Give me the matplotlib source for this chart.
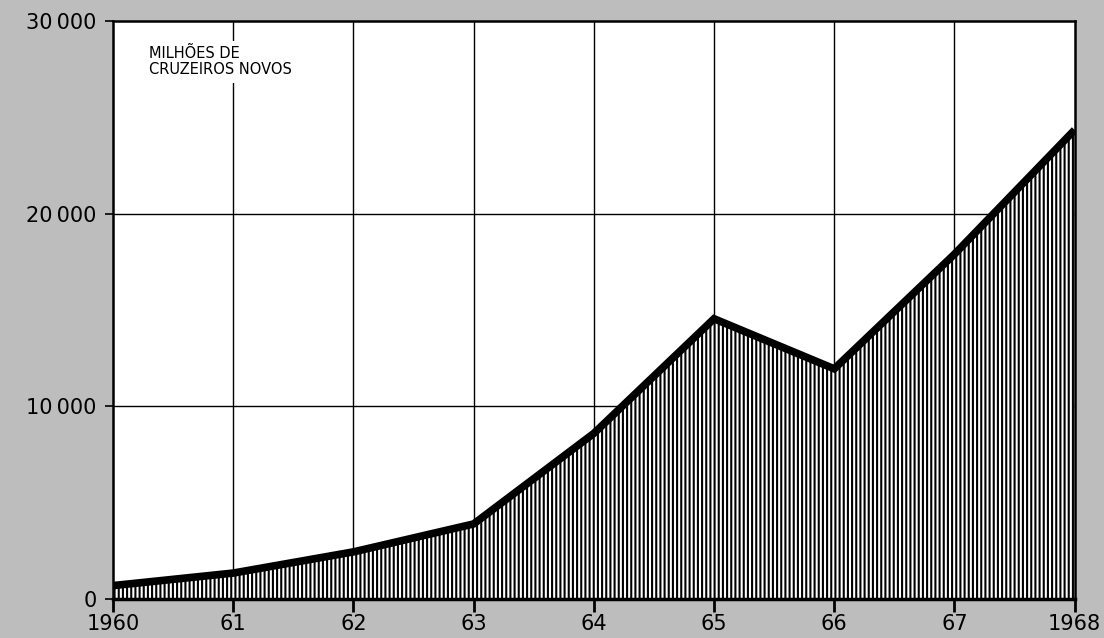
import matplotlib
matplotlib.use('Agg')
import matplotlib.pyplot as plt

# values (millions of new cruzeiros)
years = [1960, 1961, 1962, 1963, 1964, 1965, 1966, 1967, 1968]
values = [700, 1350, 2450, 3900, 8600, 14550, 11950, 17900, 24350]
year_labels = ['1960', '61', '62', '63', '64', '65', '66', '67', '1968']
y_ticks = [0, 10000, 20000, 30000]
y_labels = ['0', '10\u2009000', '20\u2009000', '30\u2009000']
unit_label = 'MILHÕES DE\nCRUZEIROS NOVOS'

plt.rcParams['hatch.linewidth'] = 1.5
plt.rcParams['hatch.color'] = 'black'

fig = plt.figure(figsize=(11.04, 6.38), dpi=100, facecolor='#bdbdbd')
ax = fig.add_axes([0.1024, 0.061, 0.871, 0.906])
ax.set_facecolor('white')

# grid behind the shaded area
for yr in years[1:-1]:
    ax.axvline(yr, color='black', lw=1.0, zorder=1)
for v in y_ticks[1:-1]:
    ax.axhline(v, color='black', lw=1.0, zorder=1)

ax.fill_between(years, values, 0, facecolor='white', edgecolor='black',
                hatch='||||', lw=0, zorder=2)
ax.plot(years, values, color='black', lw=5.5, solid_joinstyle='miter',
        solid_capstyle='butt', zorder=3)

ax.set_xlim(1960, 1968)
ax.set_ylim(0, 30000)
ax.set_xticks(years)
ax.set_xticklabels(year_labels, fontsize=15)
ax.set_yticks(y_ticks)
ax.set_yticklabels(y_labels, fontsize=15)
ax.tick_params(axis='x', direction='out', length=9, width=2, pad=2)
ax.tick_params(axis='y', direction='out', length=6, width=1.2, pad=6)

for side in ['left', 'top', 'right']:
    ax.spines[side].set_linewidth(1.8)
ax.spines['bottom'].set_linewidth(2.5)
for s in ax.spines.values():
    s.set_zorder(4)

ax.text(1960.3, 28700, unit_label, fontsize=10.5, va='top', ha='left',
        linespacing=1.1, zorder=5,
        bbox=dict(facecolor='white', edgecolor='none', pad=4))

fig.savefig('out.png', dpi=100, facecolor=fig.get_facecolor())
